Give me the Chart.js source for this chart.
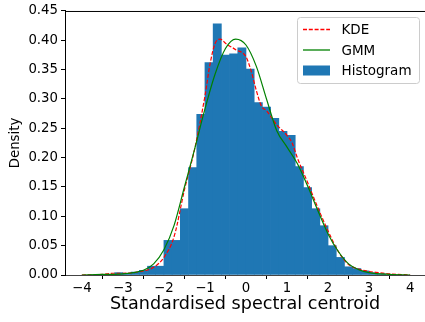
<!DOCTYPE html>
<html>
<head>
<meta charset="utf-8">
<script src="https://cdn.jsdelivr.net/npm/chart.js@4.4.0/dist/chart.umd.min.js"></script>
<style>
  html, body { margin: 0; padding: 0; background: #fff; }
  #wrap { width: 425px; height: 322px; }
</style>
</head>
<body>
<div id="wrap"><canvas id="graphCanvas"></canvas></div>
<script>
// histogram bins (centres, width 0.2) and densities
const binCentres = [-3.1, -2.9, -2.7, -2.5, -2.3, -2.1, -1.9, -1.7, -1.5, -1.3, -1.1, -0.9, -0.7, -0.5, -0.3, -0.1,
                    0.1, 0.3, 0.5, 0.7, 0.9, 1.1, 1.3, 1.5, 1.7, 1.9, 2.1, 2.3, 2.5, 2.7, 2.9, 3.1, 3.3];
const histDensity = [0.004, 0.003, 0.005, 0.008, 0.015, 0.015, 0.059, 0.059, 0.113, 0.183, 0.274, 0.362, 0.428, 0.375, 0.377, 0.387,
                     0.351, 0.294, 0.286, 0.267, 0.245, 0.238, 0.185, 0.149, 0.113, 0.084, 0.050, 0.030, 0.014, 0.011, 0.007, 0.004, 0.002];

// kernel density estimate
const kdeX = [-4.0, -3.5, -3.25, -3.0, -2.75, -2.5, -2.25, -2.0, -1.75, -1.5, -1.25, -1.0, -0.875, -0.75, -0.625, -0.5, -0.25,
              0.0, 0.125, 0.25, 0.375, 0.5, 0.625, 0.75, 1.0, 1.125, 1.25, 1.5, 1.75, 2.0, 2.25, 2.5, 2.75, 3.0, 3.25, 3.5, 4.0];
const kdeY = [0.000, 0.001, 0.003, 0.003, 0.004, 0.007, 0.013, 0.030, 0.066, 0.145, 0.215, 0.305, 0.360, 0.395, 0.402, 0.395, 0.384,
              0.372, 0.348, 0.315, 0.288, 0.280, 0.268, 0.256, 0.238, 0.225, 0.200, 0.158, 0.115, 0.075, 0.040, 0.018, 0.010, 0.006, 0.004, 0.002, 0.000];

// gaussian mixture model
const gmmX = [-4.0, -3.5, -3.0, -2.75, -2.5, -2.25, -2.0, -1.75, -1.5, -1.25, -1.0, -0.75, -0.5, -0.25,
              0.0, 0.25, 0.5, 0.75, 1.0, 1.25, 1.5, 1.75, 2.0, 2.25, 2.5, 2.75, 3.0, 3.5, 4.0];
const gmmY = [0.000, 0.001, 0.002, 0.004, 0.008, 0.019, 0.043, 0.085, 0.150, 0.215, 0.283, 0.343, 0.386, 0.402,
              0.392, 0.356, 0.300, 0.246, 0.218, 0.190, 0.152, 0.110, 0.070, 0.040, 0.019, 0.009, 0.004, 0.001, 0.000];

const xTicks = [-4, -3, -2, -1, 0, 1, 2, 3, 4];
const yTicks = [0, 0.05, 0.10, 0.15, 0.20, 0.25, 0.30, 0.35, 0.40, 0.45];

const HIST_BLUE = '#1f77b4';
const KDE_RED = '#ff0000';
const GMM_GREEN = '#008000';

const tickFont = { family: 'DejaVu Sans', size: 13.3 };

function pairs(xs, ys) {
    return xs.map((x, i) => ({ x: x, y: ys[i] }));
}

// top spine and matplotlib-style legend box
const extras = {
    id: 'extras',
    afterDraw(chart) {
        const ctx = chart.ctx;
        const a = chart.chartArea;
        ctx.save();
        ctx.strokeStyle = '#000';
        ctx.lineWidth = 1;
        ctx.beginPath();
        ctx.moveTo(a.left, a.top + 0.5);
        ctx.lineTo(a.right, a.top + 0.5);
        ctx.stroke();

        // legend frame
        const fx = 297.5, fy = 17.5, fw = 122, fh = 66, r = 3;
        ctx.beginPath();
        ctx.moveTo(fx + r, fy);
        ctx.arcTo(fx + fw, fy, fx + fw, fy + fh, r);
        ctx.arcTo(fx + fw, fy + fh, fx, fy + fh, r);
        ctx.arcTo(fx, fy + fh, fx, fy, r);
        ctx.arcTo(fx, fy, fx + fw, fy, r);
        ctx.closePath();
        ctx.fillStyle = 'rgba(255,255,255,0.8)';
        ctx.fill();
        ctx.strokeStyle = '#cccccc';
        ctx.stroke();

        ctx.font = '13.5px "DejaVu Sans"';
        ctx.textBaseline = 'middle';

        // KDE
        ctx.strokeStyle = KDE_RED;
        ctx.lineWidth = 1.3;
        ctx.setLineDash([4, 1.8]);
        ctx.beginPath();
        ctx.moveTo(303, 29.5);
        ctx.lineTo(330, 29.5);
        ctx.stroke();
        ctx.setLineDash([]);

        // GMM
        ctx.strokeStyle = GMM_GREEN;
        ctx.lineWidth = 1.3;
        ctx.beginPath();
        ctx.moveTo(303, 50);
        ctx.lineTo(330, 50);
        ctx.stroke();

        // Histogram
        ctx.fillStyle = HIST_BLUE;
        ctx.fillRect(303, 65.5, 27, 10);

        ctx.fillStyle = '#000';
        ctx.fillText('KDE', 341.5, 30.5);
        ctx.fillText('GMM', 341.5, 51);
        ctx.fillText('Histogram', 341.5, 71.5);
        ctx.restore();
    }
};

new Chart(document.getElementById('graphCanvas'), {
    type: 'bar',
    data: {
        datasets: [
            {
                label: 'Histogram',
                data: pairs(binCentres, histDensity),
                backgroundColor: HIST_BLUE,
                borderWidth: 0,
                categoryPercentage: 1.0,
                barPercentage: 1.0,
                order: 3
            },
            {
                type: 'line',
                label: 'KDE',
                data: pairs(kdeX, kdeY),
                borderColor: KDE_RED,
                borderWidth: 1.2,
                borderDash: [4, 1.8],
                pointRadius: 0,
                cubicInterpolationMode: 'monotone',
                order: 2
            },
            {
                type: 'line',
                label: 'GMM',
                data: pairs(gmmX, gmmY),
                borderColor: GMM_GREEN,
                borderWidth: 1.2,
                pointRadius: 0,
                cubicInterpolationMode: 'monotone',
                order: 1
            }
        ]
    },
    options: {
        responsive: true,
        maintainAspectRatio: false,
        animation: false,
        layout: { padding: { top: 10, right: 0, left: 0, bottom: 0 } },
        plugins: {
            legend: { display: false },
            tooltip: { enabled: false }
        },
        scales: {
            x: {
                type: 'linear',
                offset: false,
                min: -4.41,
                max: 4.362,
                afterBuildTicks: (s) => { s.ticks = xTicks.map(v => ({ value: v })); },
                afterFit: (s) => { s.height = 47; },
                grid: { display: true, drawOnChartArea: false, drawTicks: true, tickLength: 4, color: '#000' },
                border: { display: true, color: '#444', width: 1 },
                ticks: {
                    font: tickFont,
                    color: '#000',
                    padding: 2,
                    maxRotation: 0,
                    callback: (v) => (v < 0 ? '\u2212' + Math.abs(v) : String(v))
                },
                title: {
                    display: true,
                    text: 'Standardised spectral centroid',
                    font: { family: 'DejaVu Sans', size: 17.6 },
                    color: '#000',
                    padding: { top: 0, bottom: 7 }
                }
            },
            y: {
                min: 0,
                max: 0.45,
                afterBuildTicks: (s) => { s.ticks = yTicks.map(v => ({ value: v })); },
                afterFit: (s) => { s.width = 65; },
                grid: { display: true, drawOnChartArea: false, drawTicks: true, tickLength: 4, color: '#000' },
                border: { display: true, color: '#000', width: 1 },
                ticks: {
                    font: tickFont,
                    color: '#000',
                    padding: 3,
                    callback: (v) => v.toFixed(2)
                },
                title: {
                    display: true,
                    text: 'Density',
                    font: { family: 'DejaVu Sans', size: 13.3 },
                    color: '#000',
                    padding: { top: 8, bottom: 0 }
                }
            }
        }
    },
    plugins: [extras]
});
</script>
</body>
</html>
